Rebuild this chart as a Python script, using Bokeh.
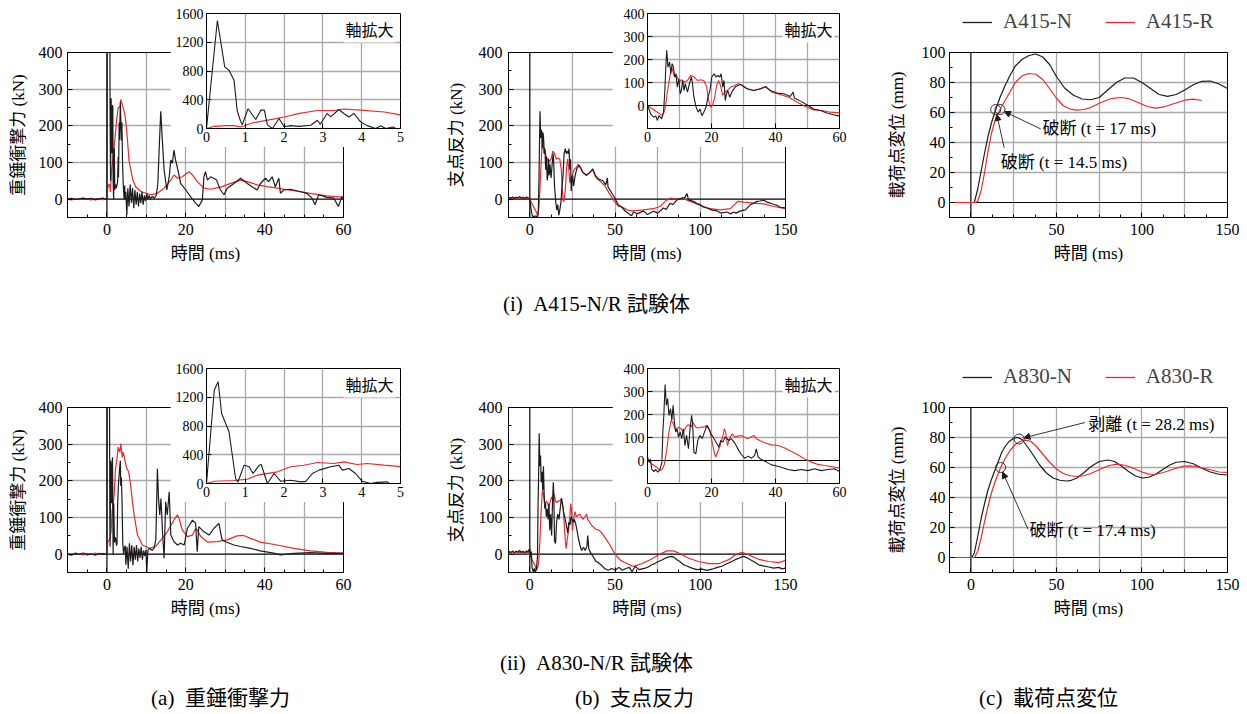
from bokeh.plotting import figure
from bokeh.models import (Range1d, FixedTicker, Span, Legend, LegendItem,
                          Label, Arrow, NormalHead)
from bokeh.embed import file_html
from bokeh.resources import INLINE
from bokeh.core.properties import value

# ======================= DATA =======================
# (a)(i) A415 impact force [t ms, kN]
a1_N = [(-10,0),(-9,2),(-8,-1),(-7,1),(-6,3),(-5,0),(-4,2),(-3,-2),(-2,1),(-1,3),(-0.5,0),(0,0),
        (0.28,1503),(0.47,857),(0.58,810),(0.71,670),(0.79,254),(0.86,128),(0.92,50),(1.07,275),
        (1.27,125),(1.4,255),(1.49,255),(1.57,50),(1.7,0),(1.87,139),(2.0,25),(2.17,40),(2.38,30),
        (2.69,45),(2.86,115),(2.93,60),(3.11,209),(3.2,162),(3.41,264),(3.54,209),(3.67,160),
        (3.8,209),(3.97,93),(4.14,40),(4.36,0),(4.49,37),(4.62,0),(4.8,20),(5.05,-43),(5.3,30),
        (5.6,-20),(5.9,40),(6.2,-10),(6.5,30),(6.8,-25),(7.1,25),(7.4,-15),(7.7,20),(8.0,-20),
        (8.3,15),(8.6,-10),(8.9,20),(9.2,-15),(9.5,10),(9.8,-5),(10.1,15),(10.4,0),(10.7,10),
        (11.0,0),(11.5,8),(12.0,2),(12.5,10),(12.9,40),(13.3,150),(13.65,240),(14.0,170),
        (14.5,80),(15.2,25),(15.8,61),(16.2,107),(16.6,98),(17.0,134),(17.4,107),(18.0,80),
        (18.7,43),(20.0,25),(21.2,7),(22.5,-11),(23.3,-20),(24.2,-2),(24.6,61),(25.0,75),
        (25.5,52),(26.3,61),(27.1,57),(27.8,52),(28.8,25),(29.7,12),(30.5,30),(32.2,43),
        (33.9,57),(35.6,43),(36.8,34),(38.1,25),(38.9,42),(40.2,57),(41.0,48),(41.9,61),
        (42.7,34),(43.6,57),(44.0,16),(44.8,25),(46.5,27),(49.0,21),(50.7,16),(52.0,3),
        (52.8,-15),(53.7,12),(55.8,5),(57.5,3),(58.7,-20),(59.6,7),(60,0)]
a1_R = [(-10,0),(-9,-2),(-8,1),(-7,-1),(-6,2),(-5,0),(-4,-2),(-3,1),(-2,0),(-1,-1),(0,0),
        (0.2,30),(0.5,40),(0.71,40),(0.88,20),(1.2,80),(1.72,130),(2.0,160),(2.4,210),(2.86,250),
        (3.3,250),(3.54,272),(3.97,255),(4.58,230),(5.0,190),(5.6,106),(6.5,55),(7.3,34),
        (8.6,21),(11.1,12),(12.8,16),(14.5,30),(16.2,52),(17.0,66),(17.9,57),(19.1,61),
        (20.8,75),(21.7,66),(22.9,48),(24.6,30),(26.3,27),(28.8,33),(31.4,43),(33.9,52),
        (35.6,48),(38.1,39),(40.6,34),(43.2,30),(47.4,23),(51.6,16),(55.8,9),(60,5)]
# (a)(ii) A830 impact force
a2_N = [(-10,0),(-9,-3),(-8,2),(-7,-1),(-6,3),(-5,-2),(-4,1),(-3,-3),(-2,2),(-1,0),(0,0),
        (0.2,1298),(0.3,1415),(0.39,974),(0.58,719),(0.75,70),(0.81,20),(0.97,255),(1.1,232),
        (1.2,139),(1.36,255),(1.41,264),(1.57,0),(1.74,139),(1.91,32),(2.17,46),(2.43,23),
        (2.56,30),(2.73,139),(2.9,186),(3.2,232),(3.41,255),(3.5,186),(3.67,209),(3.84,139),
        (4.01,32),(4.23,0),(4.4,16),(4.66,23),(4.8,-29),(5.1,20),(5.4,-40),(5.7,30),(6.0,-20),
        (6.3,25),(6.6,-30),(6.9,20),(7.2,-15),(7.5,25),(7.8,-20),(8.1,15),(8.4,-10),(8.7,20),
        (9.0,-15),(9.3,10),(9.6,-5),(9.9,12),(10.1,-50),(10.4,10),(10.8,16),(11.5,10),(12.0,18),
        (12.4,40),(12.8,233),(13.1,150),(13.4,107),(13.7,152),(14.1,61),(14.5,-11),(14.9,143),
        (15.3,107),(15.8,170),(16.2,52),(17,34),(17.9,25),(18.7,30),(19.6,25),(20.4,70),
        (21.7,93),(22.5,84),(22.9,7),(23.3,75),(24.6,61),(25.9,52),(27.1,70),(28.4,84),
        (28.8,61),(29.2,39),(30.1,34),(32.2,25),(33.9,21),(36.4,16),(38.9,9),(42.3,3),(44,-2),
        (47.4,2),(51.6,4),(55.8,2),(60,2)]
a2_R = [(-10,2),(-9,-1),(-8,3),(-7,0),(-6,-2),(-5,2),(-4,-1),(-3,3),(-2,0),(-1,2),(0,0),
        (0.2,32),(0.71,42),(1.05,60),(1.31,116),(1.83,162),(2.17,232),(2.51,255),(2.86,292),
        (3.28,278),(3.54,301),(3.88,264),(4.14,278),(4.57,255),(5.0,235),(5.5,225),(6.0,190),
        (6.5,140),(6.9,107),(7.75,52),(9,25),(10.7,16),(12.4,21),(13.7,39),(15.3,61),(17,93),
        (17.9,107),(18.3,98),(19.1,66),(20.4,48),(21.7,52),(22.5,70),(22.9,66),(23.8,48),
        (25.5,33),(28,34),(30.5,39),(33,50),(34.7,51),(36.4,43),(38.9,33),(43.2,25),(47.4,16),
        (51.6,9),(55.8,5),(60,3)]
# (b)(i) A415 support reaction
b1_N = [(-12.5,5),(-11,3),(-10,6),(-9,2),(-8,5),(-7,4),(-6,7),(-5,3),(-4,5),(-3,2),(-2,6),(-1,4),
        (0,0),(1,-36),(1.9,-51),(2.6,-45),(3.1,-65),(3.6,-44),(4.4,-58),(5,-29),(5.4,58),
        (5.7,160),(6,240),(6.4,167),(6.9,189),(7.3,138),(7.7,182),(8.1,167),(8.5,124),(8.9,138),
        (9.3,80),(9.8,116),(10.2,51),(10.6,65),(11,109),(11.4,65),(11.8,95),(12.5,58),(13.1,95),
        (13.7,124),(14,102),(14.5,36),(15.2,-7),(15.8,-29),(16.4,-15),(17,-44),(17.6,-29),
        (18.3,-7),(18.9,36),(19.5,65),(20.1,124),(20.8,138),(21.4,124),(22,131),(22.6,124),
        (23,138),(23.5,80),(23.9,109),(24.3,22),(24.7,51),(25.1,65),(25.7,36),(26.6,65),
        (27.6,83),(29.1,92),(31.1,73),(33.2,65),(35.3,73),(36.9,83),(38.4,65),(40.5,54),
        (42.6,51),(44.6,39),(45.5,58),(45.9,33),(47.8,19),(49.8,3),(51.9,-15),(54,-22),
        (56.1,-33),(58.1,-40),(59.7,-45),(60.8,-35),(63,-40),(66.7,-32),(69,-42),(72.5,-33),
        (75,-38),(78.4,-24),(80,-28),(82.4,-11),(84,-15),(86.3,-2),(89.2,3),(91,5),(92.2,15),
        (93.1,-2),(96,-6),(98,-12),(100,-15),(102,-22),(103.9,-24),(107,-30),(109.8,-32),
        (112,-38),(115.7,-35),(118,-40),(119.6,-35),(121,-38),(123.5,-32),(126.5,-29),
        (129.4,-15),(131,-12),(133.3,-6),(135,-5),(137.3,-3),(139,-8),(141.2,-11),(143,-14),
        (145.1,-17),(147,-22),(150,-24)]
b1_R = [(-12.5,3),(-10,2),(-8,4),(-6,2),(-4,3),(-2,2),(0,0),(1.6,-15),(3.1,-29),(4.7,-44),
        (5.4,-22),(6,36),(6.7,102),(7.3,153),(7.6,165),(7.9,150),(8.5,124),(9.1,131),(9.9,102),
        (10.6,112),(11.4,102),(12.5,109),(13.5,131),(14.5,124),(15.6,109),(16.6,112),(17.6,109),
        (18.5,80),(19.1,22),(19.7,-7),(20.3,0),(21,36),(21.6,87),(22.2,109),(22.8,87),(23.5,44),
        (24.1,58),(24.9,65),(26,80),(27.2,87),(28.4,95),(29.6,87),(31.1,73),(33.2,65),(35.3,73),
        (36.9,80),(38.9,58),(41.5,48),(44.1,36),(46.7,15),(49.3,-4),(51.9,-19),(54.5,-22),
        (57.1,-29),(60,-32),(66.7,-29),(72.5,-26),(76.5,-20),(79.4,-6),(82.4,3),(86.3,0),
        (90.2,1),(94.1,-6),(100,-17),(105.9,-26),(111.8,-29),(117.6,-26),(119.6,-17),(122,-6),
        (125.5,-8),(131.4,-11),(137.3,-13),(143.1,-20),(150,-26)]
# (b)(ii) A830 support reaction
b2_N = [(-12.5,8),(-11,5),(-10,9),(-9,4),(-8,8),(-7,6),(-6,10),(-5,5),(-4,8),(-3,4),(-2,9),(-1,6),
        (-0.5,12),(0,15),(0.5,-7),(0.9,7),(1.3,-36),(2,-48),(2.6,-39),(3.2,-51),(3.9,-39),
        (4.5,-7),(4.8,124),(5.1,196),(5.5,330),(5.9,240),(6.3,269),(6.7,196),(7.2,225),
        (7.6,175),(8,240),(8.4,167),(8.8,124),(9.2,138),(9.7,102),(10.2,124),(10.7,95),
        (11.2,138),(11.7,65),(12.2,109),(12.8,51),(13.3,138),(13.8,196),(14.1,160),(14.5,36),
        (15.1,29),(15.7,87),(16.4,109),(17.1,95),(18,131),(18.6,153),(19.2,138),(19.8,116),
        (20.5,102),(21.1,87),(21.7,73),(22.3,58),(22.9,87),(23.6,80),(24.2,102),(24.8,95),
        (25.4,87),(26.1,95),(26.9,83),(27.7,65),(28.5,44),(29.4,25),(30.4,10),(31.5,19),
        (32.5,10),(33.5,22),(34,51),(34.6,15),(35.6,4),(37.2,-7),(38.7,-19),(39.8,-22),
        (41.8,-29),(43.9,-39),(46,-44),(48.1,-39),(50.1,-44),(52.2,-36),(54.3,-44),(56.4,-39),
        (58.4,-36),(60,-48),(61.8,-33),(64,-42),(67.7,-38),(69.5,-35),(71.6,-29),(73.5,-25),
        (75.5,-20),(77.5,-16),(79.4,-11),(81,-8),(83.3,-6),(85,-10),(86.3,-15),(88,-20),
        (90.2,-29),(92.5,-33),(95.1,-38),(98,-42),(101,-41),(104,-44),(106.9,-41),(110,-36),
        (112.7,-33),(115.5,-26),(118.6,-20),(120.5,-15),(122.6,-11),(124,-8),(125.5,-6),
        (127.5,-10),(129.4,-15),(132,-22),(134.3,-29),(137,-32),(140.2,-35),(143,-38),
        (146.1,-36),(148,-40),(150,-38)]
b2_R = [(-12.5,5),(-11,3),(-10,6),(-9,4),(-8,7),(-7,3),(-6,5),(-5,4),(-4,6),(-3,3),(-2,5),(-1,4),
        (0,0),(1.3,-15),(2.9,-29),(3.9,-44),(4.7,-36),(5.3,-15),(6,44),(6.7,124),(7.4,175),
        (8.1,160),(8.8,131),(9.7,145),(10.5,138),(11.2,124),(12,145),(12.8,156),(13.6,145),
        (14.3,164),(15.1,145),(15.9,141),(16.7,145),(17.5,145),(18.4,150),(19,138),(19.6,124),
        (20.2,80),(20.9,33),(21.3,15),(21.9,36),(22.7,65),(23.6,109),(24,138),(24.4,124),
        (25,65),(25.6,95),(26.5,116),(27.3,102),(28.3,106),(29.4,109),(30.2,102),(31.2,95),
        (32.3,102),(33.3,109),(34,95),(35.1,87),(36.6,77),(38.7,68),(40.8,65),(42.9,54),
        (45,39),(47,25),(49.1,7),(51.2,-7),(53.3,-17),(55.3,-22),(57.4,-26),(60,-33),
        (61.8,-32),(65.7,-26),(70.6,-15),(75.5,-2),(80.4,9),(84.3,9),(88.3,1),(93.2,-11),
        (99,-20),(104.9,-26),(110.8,-26),(116.7,-15),(120.6,-2),(124.5,5),(128.4,-2),
        (134.3,-14),(140.2,-20),(146.1,-23),(150,-17)]
# (c)(i) A415 loading-point displacement [t ms, mm]
c1_N = [(-12.5,0),(2,0),(4,9),(6,21),(8,33),(10,44),(12,53),(14.5,62),(17,70),(20,78),(23,85),
        (26,91),(30,95.5),(34,98),(38,99),(42,97),(46,92),(50,84),(55,76),(60,71.5),(65,69),
        (70,68.5),(75,70),(80,75),(85,80),(90,83),(95,83),(100,80),(105,76),(110,72),(115,70.7),
        (120,72),(125,75),(130,78.5),(135,80.8),(140,81),(145,79),(150,76)]
c1_R = [(-12.5,0),(3,0),(4,1),(6,8),(8,20),(10,34),(12,46),(14,54),(17,62),(20,68),(23,74),
        (26,80),(30,84.5),(34,86),(38,85.5),(42,82),(46,76),(50,69.5),(54,64.5),(58,62.3),
        (62,61.6),(66,62),(70,63.3),(76,66.7),(82,69.3),(88,70),(92,69.3),(97,67),(103,64),
        (108,62.9),(113,63.8),(119,66),(125,68.2),(130,68.9),(135,68)]
# (c)(ii) A830 loading-point displacement
c2_N = [(-12.5,0),(0.5,0),(2,3),(4,14),(6,26),(8,36),(10,45),(12,52),(14,58),(16,64),(18,70),
        (20,74),(22,77),(25,79.5),(27.5,80),(30,78.5),(33,74),(36,69),(40,62),(44,56.5),(48,53),
        (52,51.5),(56,51),(58,51.2),(62,53),(66,56.5),(70,60.5),(75,64),(80,65),(84,64),(88,61),
        (92,57.5),(96,54.5),(100,53),(104,53.5),(108,55.5),(112,58.5),(116,61.5),(120,63.5),
        (125,64),(130,62.5),(135,59.5),(140,57),(145,55.5),(150,55)]
c2_R = [(-12.5,0),(2,0),(4,4),(6,13),(8,24),(10,34),(12,43),(14,50),(16,56),(17.4,60),(20,66),
        (23,71.5),(26,75.5),(29,77.5),(32,78.3),(35,77.5),(38,74.5),(42,69),(46,63.5),(50,59),
        (54,56),(58,54.5),(62,54),(66,54.5),(70,56),(75,58.5),(80,61),(85,62.2),(90,61.5),
        (95,59.5),(100,57),(104,55.6),(108,55.5),(112,56.5),(116,58),(120,59.5),(124,60.8),
        (128,61.1),(132,60.5),(136,59.5),(140,58.5),(145,57),(150,56.7)]

legend_rows = [["A415-N", "A415-R"], ["A830-N", "A830-R"]]
# event markers (t, mm) and notes (text, text t, mm, arrow start t, mm, arrow end t, mm)
c1_marks = [(14.5, 62), (17, 62)]
c1_notes = [("破断 (t = 17 ms)", 41.9, 49.3, 40.9, 49.0, 19.6, 60.6),
            ("破断 (t = 14.5 ms)", 17.5, 26.7, 19.5, 36.5, 15.1, 58.7)]
c2_marks = [(28.2, 79), (17.4, 60)]
c2_notes = [("剥離 (t = 28.2 ms)", 68.6, 88.9, 66.7, 90.0, 31.0, 79.8),
            ("破断 (t = 17.4 ms)", 34.3, 17.8, 33.4, 18.9, 18.6, 56.9)]

ylabels = ["重錘衝撃力 (kN)", "支点反力 (kN)", "載荷点変位 (mm)"]
xlabel = "時間 (ms)"
inset_text = "軸拡大"
row_captions = ["(i)\u2002A415-N/R 試験体", "(ii)\u2002A830-N/R 試験体"]
col_captions = ["(a)\u2002重錘衝撃力", "(b)\u2002支点反力", "(c)\u2002載荷点変位"]

# ======================= STYLE =======================
SERIF = "Liberation Serif, Noto Sans CJK JP"
BLACK = "#1c1c1c"
RED = "#e8292e"
GRID = "#a9a9a9"
PAGE_W, PAGE_H = 1247, 714
NAN = float("nan")


def xs(d):
    return [p[0] for p in d]


def ys(d):
    return [p[1] for p in d]


def place(p, left, top):
    p.styles = {"position": "absolute", "left": f"{left}px", "top": f"{top}px"}


def base_fig(xr, yr, fw, fh, L, R, T, B, fs, opaque):
    p = figure(width=L + fw + R, height=T + fh + B, x_range=Range1d(*xr), y_range=Range1d(*yr),
               output_backend="svg", toolbar_location=None,
               min_border_left=L, min_border_right=R, min_border_top=T, min_border_bottom=B)
    p.border_fill_color = "white"
    p.border_fill_alpha = 1.0 if opaque else 0.0
    p.background_fill_color = "white"
    p.outline_line_color = "black"
    p.outline_line_width = 1
    p.outline_line_alpha = 1
    for ax in (p.xaxis[0], p.yaxis[0]):
        ax.major_label_text_font = SERIF
        ax.major_label_text_font_size = fs
        ax.major_label_text_color = "black"
        ax.axis_line_color = "black"
        ax.major_tick_in = 5
        ax.major_tick_out = 0
        ax.minor_tick_in = 3
        ax.minor_tick_out = 0
        ax.major_tick_line_color = "black"
        ax.minor_tick_line_color = "black"
        ax.axis_label_text_font = SERIF
        ax.axis_label_text_font_style = "normal"
        ax.axis_label_text_font_size = "17px"
        ax.axis_label_text_color = "black"
    for g in (p.xgrid[0], p.ygrid[0]):
        g.grid_line_color = GRID
        g.grid_line_width = 1.3
    return p


def set_ticks(p, xt, xm, xg, yt, ym, yg):
    p.xaxis[0].ticker = FixedTicker(ticks=xt, minor_ticks=xm)
    p.yaxis[0].ticker = FixedTicker(ticks=yt, minor_ticks=ym)
    p.xgrid[0].ticker = FixedTicker(ticks=xg)
    p.ygrid[0].ticker = FixedTicker(ticks=yg)


def zero_lines(p, vert=True, horiz=True):
    if vert:
        p.add_layout(Span(location=0, dimension="height", line_color="black", line_width=1.2,
                          level="underlay"))
    if horiz:
        p.add_layout(Span(location=0, dimension="width", line_color="black", line_width=1.2,
                          level="underlay"))


def rng(a, b, s):
    out = []
    v = a
    while v <= b + 1e-9:
        out.append(round(v, 6))
        v += s
    return out


def inset_label(p, x, y):
    p.add_layout(Label(x=x, y=y, x_offset=-5, y_offset=-15, text=inset_text,
                       text_font="Noto Sans CJK JP", text_font_size="16px", text_align="right",
                       text_baseline="middle", text_color="black",
                       background_fill_color="white", background_fill_alpha=1.0, padding=2))


FH = 165
T_M, B_M = 44, 55
ROW_DY = [0, 355]
roots = []

# background page: captions and the (c) legends (page pixel coordinates)
bg = figure(width=PAGE_W, height=PAGE_H, x_range=Range1d(0, PAGE_W), y_range=Range1d(PAGE_H, 0),
            output_backend="svg", toolbar_location=None, x_axis_type=None, y_axis_type=None,
            min_border=0, min_border_left=0, min_border_right=0, min_border_top=0,
            min_border_bottom=0)
bg.outline_line_color = None
bg.background_fill_alpha = 0
bg.border_fill_alpha = 0
bg.grid.visible = False
cap_x = [596, 596, 220, 634, 1048]
cap_y = [303, 662, 697, 697, 697]
bg.text(x=cap_x, y=cap_y, text=row_captions + col_captions, text_font=value(SERIF),
        text_font_size="21px", text_align="center", text_baseline="middle", text_color="black")
legend_pos = [(962, PAGE_H - 23 - 11), (962, PAGE_H - 378 - 11)]
for r in range(2):
    # legend keys (no visible data of their own)
    key_N = bg.line(x=[NAN], y=[NAN], line_color=BLACK, line_width=1.3)
    key_R = bg.line(x=[NAN], y=[NAN], line_color=RED, line_width=1.3)
    bg.add_layout(Legend(items=[LegendItem(label=legend_rows[r][0], renderers=[key_N]),
                                LegendItem(label=legend_rows[r][1], renderers=[key_R])],
                         orientation="horizontal", location=legend_pos[r], padding=0, margin=0,
                         spacing=33, glyph_width=30, glyph_height=22, label_height=22,
                         label_standoff=11, label_text_font="Liberation Serif",
                         label_text_font_size="21px", border_line_alpha=0,
                         background_fill_alpha=0))
place(bg, 0, 0)
roots.append(bg)

insets = []
for r in range(2):
    dy = ROW_DY[r]
    aN, aR = (a1_N, a1_R) if r == 0 else (a2_N, a2_R)
    bN, bR = (b1_N, b1_R) if r == 0 else (b2_N, b2_R)
    cN, cR = (c1_N, c1_R) if r == 0 else (c2_N, c2_R)

    # ---- (a) main
    pa = base_fig((-10, 60), (-50, 400), 276, FH, 62, 12, T_M, B_M, "16px", False)
    set_ticks(pa, [0, 20, 40, 60], rng(-10, 60, 5), rng(10, 50, 10),
              [0, 100, 200, 300, 400], rng(-50, 400, 50), [100, 200, 300])
    zero_lines(pa)
    pa.line(xs(aR), ys(aR), line_color=RED, line_width=1.2)
    pa.line(xs(aN), ys(aN), line_color=BLACK, line_width=1.2)
    pa.yaxis.axis_label = ylabels[0]
    pa.xaxis.axis_label = xlabel
    pa.yaxis.axis_label_standoff = 8
    pa.xaxis.axis_label_standoff = 6
    pa.xaxis.major_label_standoff = 6
    pa.yaxis.major_label_standoff = 5
    place(pa, 5, 8 + dy)
    roots.append(pa)

    # ---- (b) main
    pb = base_fig((-12.5, 150), (-50, 400), 277, FH, 78, 15, T_M, B_M, "16px", False)
    set_ticks(pb, [0, 50, 100, 150], rng(-12.5, 150, 12.5), rng(25, 125, 25),
              [0, 100, 200, 300, 400], rng(-50, 400, 50), [100, 200, 300])
    zero_lines(pb)
    pb.line(xs(bR), ys(bR), line_color=RED, line_width=1.2)
    pb.line(xs(bN), ys(bN), line_color=BLACK, line_width=1.2)
    pb.yaxis.axis_label = ylabels[1]
    pb.xaxis.axis_label = xlabel
    pb.yaxis.axis_label_standoff = 10
    pb.xaxis.axis_label_standoff = 6
    pb.xaxis.major_label_standoff = 6
    pb.yaxis.major_label_standoff = 6
    place(pb, 430, 8 + dy)
    roots.append(pb)

    # ---- (c) main
    pc = base_fig((-12.5, 150), (-10, 100), 278, FH, 79, 12, T_M, B_M, "16px", False)
    set_ticks(pc, [0, 50, 100, 150], rng(-12.5, 150, 12.5), rng(25, 125, 25),
              rng(0, 100, 20), rng(-10, 100, 10), [20, 40, 60, 80])
    zero_lines(pc)
    pc.line(xs(cN), ys(cN), line_color=BLACK, line_width=1.2)
    pc.line(xs(cR), ys(cR), line_color=RED, line_width=1.2)
    marks = c1_marks if r == 0 else c2_marks
    notes = c1_notes if r == 0 else c2_notes
    pc.scatter(xs(marks), ys(marks), marker="circle", size=10, fill_alpha=0,
               line_color="#333333", line_width=1)
    for txt, tx, ty, x0, y0, x1, y1 in notes:
        pc.add_layout(Arrow(x_start=x0, y_start=y0, x_end=x1, y_end=y1, line_color=BLACK,
                            line_width=0.9,
                            end=NormalHead(size=6, fill_color=BLACK, line_color=BLACK)))
        pc.add_layout(Label(x=tx, y=ty, text=txt, text_font=SERIF, text_font_size="17px",
                            text_align="left", text_baseline="middle", text_color="black"))
    pc.yaxis.axis_label = ylabels[2]
    pc.xaxis.axis_label = xlabel
    pc.yaxis.axis_label_standoff = 12
    pc.xaxis.axis_label_standoff = 6
    pc.xaxis.major_label_standoff = 6
    pc.yaxis.major_label_standoff = 4
    place(pc, 870, 8 + dy)
    roots.append(pc)

    # ---- (a) inset: 0-5 ms
    ia = base_fig((0, 5), (0, 1600), 194, 115, 36, 8, 5, 19, "14px", True)
    set_ticks(ia, [0, 1, 2, 3, 4, 5], [], [1, 2, 3, 4],
              [0, 400, 800, 1200, 1600], [], [400, 800, 1200])
    ia.line(xs(aR), ys(aR), line_color=RED, line_width=1.1)
    ia.line(xs(aN), ys(aN), line_color=BLACK, line_width=1.1)
    ia.xaxis.major_label_standoff = 3
    ia.yaxis.major_label_standoff = 3
    inset_label(ia, 5, 1600)
    place(ia, 170, 8 + dy)
    insets.append(ia)

    # ---- (b) inset: 0-60 ms
    ib = base_fig((0, 60), (-100, 400), 192, 115, 35, 11, 5, 19, "14px", True)
    set_ticks(ib, [0, 20, 40, 60], [], rng(10, 50, 10),
              [0, 100, 200, 300, 400], [], [100, 200, 300])
    zero_lines(ib, vert=False)
    ib.line(xs(bR), ys(bR), line_color=RED, line_width=1.1)
    ib.line(xs(bN), ys(bN), line_color=BLACK, line_width=1.1)
    ib.xaxis.major_label_standoff = 3
    ib.yaxis.major_label_standoff = 3
    inset_label(ib, 60, 400)
    place(ib, 612, 8 + dy)
    insets.append(ib)

roots = roots + insets
open("out.html", "w").write(file_html(roots, INLINE))
